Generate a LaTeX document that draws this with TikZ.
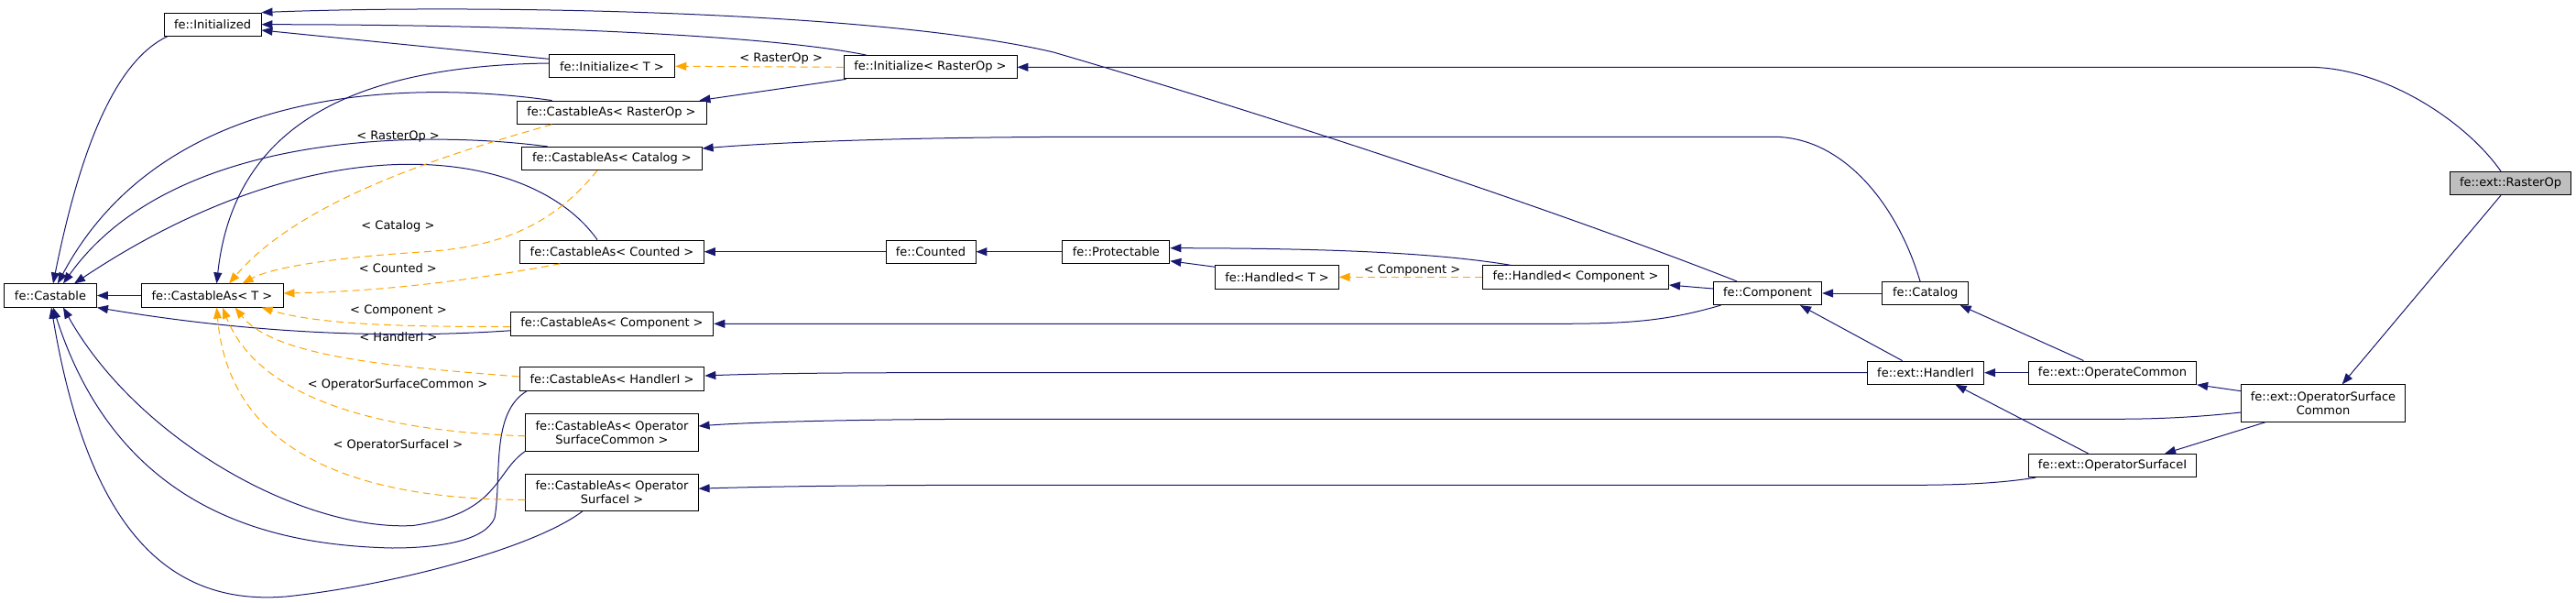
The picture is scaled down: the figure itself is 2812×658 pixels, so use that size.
\documentclass[tikz,border=0pt]{standalone}
\usepackage{fontspec}
\setmainfont{DejaVu Sans}
\usetikzlibrary{arrows.meta}

\definecolor{edgeblue}{HTML}{191970}
\definecolor{tmplorange}{HTML}{FFA500}
\definecolor{curgray}{HTML}{BFBFBF}

\tikzset{
  cls/.style={draw=black, line width=0.9pt, fill=white, inner sep=0pt,
    minimum height=25.3pt, align=center, font=\fontsize{13}{15.3}\selectfont},
  inh/.style={draw=edgeblue, line width=1pt, -{Triangle[length=12pt,width=9pt]}},
  tmpl/.style={draw=tmplorange, line width=1pt, dash pattern=on 8pt off 5pt,
    -{Triangle[length=12pt,width=9pt]}},
  lbl/.style={inner sep=0pt, font=\fontsize{13}{15.3}\selectfont}
}

\begin{document}
\begin{tikzpicture}[x=1pt,y=-1pt]
      \useasboundingbox (0,0) rectangle (2812,658);
      % classes
      \node[cls, minimum width=106pt] (initd) at (232,26.7) {fe::Initialized};
      \node[cls, minimum width=137.6pt] (initT) at (668,72.3) {fe::Initialize< T >};
      \node[cls, minimum width=189pt] (initR) at (1015.5,73.3) {fe::Initialize< RasterOp >};
      \node[cls, minimum width=207pt] (castR) at (667.5,122.7) {fe::CastableAs< RasterOp >};
      \node[cls, minimum width=196.4pt] (castCat) at (668,173) {fe::CastableAs< Catalog >};
      \node[cls, minimum width=200.6pt] (castCnt) at (668,274.7) {fe::CastableAs< Counted >};
      \node[cls, minimum width=98pt] (counted) at (1016,274.7) {fe::Counted};
      \node[cls, minimum width=117pt] (protect) at (1218.4,274.7) {fe::Protectable};
      \node[cls, minimum width=134.2pt] (handT) at (1394,302.4) {fe::Handled< T >};
      \node[cls, minimum width=203.2pt] (handC) at (1720,302.4) {fe::Handled< Component >};
      \node[cls, minimum width=118.3pt] (comp) at (1929.5,320) {fe::Component};
      \node[cls, minimum width=93.7pt] (catalog) at (2101.7,320) {fe::Catalog};
      \node[cls, fill=curgray, minimum width=132.5pt] (raster) at (2740.5,200) {fe::ext::RasterOp};
      \node[cls, minimum width=127.4pt] (handlerI) at (2102,406.7) {fe::ext::HandlerI};
      \node[cls, minimum width=183.3pt] (opCommon) at (2306,406.7) {fe::ext::OperateCommon};
      \node[cls, minimum width=179.2pt, minimum height=40.3pt] (osCommon) at (2536,440) {fe::ext::OperatorSurface\\Common};
      \node[cls, minimum width=183.3pt] (osI) at (2306,508) {fe::ext::OperatorSurfaceI};
      \node[cls, minimum width=221.6pt] (castComp) at (668,353.3) {fe::CastableAs< Component >};
      \node[cls, minimum width=201.8pt] (castHI) at (668,413.3) {fe::CastableAs< HandlerI >};
      \node[cls, minimum width=188.3pt, minimum height=40.3pt] (castOSC) at (668,471.8) {fe::CastableAs< Operator\\SurfaceCommon >};
      \node[cls, minimum width=188.3pt, minimum height=40.3pt] (castOSI) at (668,537.2) {fe::CastableAs< Operator\\SurfaceI >};
      \node[cls, minimum width=101pt] (castable) at (55,322.5) {fe::Castable};
      \node[cls, minimum width=155pt] (castT) at (231.5,322.5) {fe::CastableAs< T >};

      % template labels
      \node[lbl] (lRasterInit) at (852.7,64.3) {< RasterOp >};
      \node[lbl] (lRasterCast) at (434.6,149) {< RasterOp >};
      \node[lbl] (lCatalog) at (434.4,247.3) {< Catalog >};
      \node[lbl] (lCounted) at (434.4,292.3) {< Counted >};
      \node[lbl] (lCompCast) at (435,339) {< Component >};
      \node[lbl] (lHandlerI) at (435,367.4) {< HandlerI >};
      \node[lbl] (lOSC) at (434,420) {< OperatorSurfaceCommon >};
      \node[lbl] (lOSI) at (434.4,485.7) {< OperatorSurfaceI >};
      \node[lbl] (lCompHand) at (1541.5,295) {< Component >};

      % inheritance
      \draw[inh] ([xshift=-33.5pt]comp.north) .. controls (1700,230) and (1400,130) .. (1150,57)
        .. controls (950,10) and (500,5) .. (initd.north east);
      \draw[inh] ([xshift=-69.5pt]initR.north) .. controls (850,40) and (600,27) .. (initd.east);
      \draw[inh] ([yshift=8pt]initT.west) -- ([yshift=-6.3pt]initd.east);
      \draw[inh] ([xshift=4pt]initd.south west) .. controls (130,65) and (90,150) .. ([xshift=3pt]castable.north);
      \draw[inh] ([yshift=3.3pt]initT.west) .. controls (380,72) and (255,140) .. ([xshift=5pt]castT.north);
      \draw[inh] ([xshift=39pt]castR.north west) .. controls (450,88) and (180,90) .. ([xshift=8pt]castable.north);
      \draw[inh] ([xshift=28.4pt]castCat.north west) .. controls (470,143) and (190,140) .. ([xshift=14pt]castable.north);
      \draw[inh] ([xshift=-16pt]castCnt.north) .. controls (580,160) and (350,130) .. ([xshift=26pt]castable.north);
      \draw[inh] (castT.west) -- (castable.east);
      \draw[inh] ([yshift=-7.5pt]castComp.west) .. controls (450,368) and (300,368) .. (castable.south east);
      \draw[inh] ([xshift=9pt]castHI.south west) .. controls (535,450) and (548,520) .. (540,565)
        .. controls (530,590) and (480,598) .. (428,598)
        .. controls (300,595) and (130,560) .. ([xshift=3pt]castable.south);
      \draw[inh] (castOSC.south west) .. controls (540,515) and (545,560) .. (451,573.5)
        .. controls (330,580) and (150,480) .. ([xshift=14pt]castable.south);
      \draw[inh] ([xshift=-32pt]castOSI.south) .. controls (580,600) and (420,640) .. (312,651)
        .. controls (200,660) and (100,600) .. ([xshift=1pt]castable.south);
      \draw[inh] ([xshift=3pt]initR.south west) -- ([xshift=-8pt]castR.north east);
      \draw[inh] ([xshift=-5.7pt]catalog.north) .. controls (2070,220) and (2010,149.3) .. (1936,149.3)
        -- (1200,149.3) .. controls (1000,149.3) and (850,155) .. ([yshift=11pt]castCat.east);
      \draw[inh] (counted.west) -- (castCnt.east);
      \draw[inh] (protect.west) -- (counted.east);
      \draw[inh] ([yshift=-2pt]handT.north west) -- ([yshift=3pt]protect.south east);
      \draw[inh] ([xshift=31pt]handC.north west) .. controls (1580,278) and (1480,271) .. ([yshift=4pt]protect.east);
      \draw[inh] ([yshift=5pt]comp.west) -- ([yshift=-8.6pt]handC.east);
      \draw[inh] (catalog.west) -- (comp.east);
      \draw[inh] ([xshift=-25.4pt]handlerI.north) -- ([xshift=35.5pt]comp.south);
      \draw[inh] ([xshift=8.6pt]comp.south west) .. controls (1820,350) and (1780,353.3) .. (1700,353.3) -- (castComp.east);
      \draw[inh] ([xshift=-31.5pt]opCommon.north) -- ([xshift=38pt]catalog.south);
      \draw[inh] (opCommon.west) -- (handlerI.east);
      \draw[inh] ([xshift=-26.4pt]osI.north) -- ([xshift=32.6pt]handlerI.south);
      \draw[inh] (handlerI.west) -- (1000,406.7) .. controls (900,406.7) and (820,408) .. ([yshift=3.3pt]castHI.east);
      \draw[inh] ([yshift=13.3pt]osCommon.west) -- (opCommon.south east);
      \draw[inh] ([xshift=27.4pt]osCommon.south west) -- ([xshift=-35pt]osI.north east);
      \draw[inh] ([yshift=-10pt]osCommon.west) .. controls (2380,457.3) and (2330,457.3) .. (2300,457.3)
        -- (1100,457.3) .. controls (900,457.3) and (800,462) .. ([yshift=6.8pt]castOSC.east);
      \draw[inh] ([xshift=8.3pt]osI.south west) .. controls (2180,528) and (2130,529.3) .. (2090,529.3)
        -- (1100,529.3) .. controls (900,529.3) and (800,532) .. ([yshift=4pt]castOSI.east);
      \draw[inh] ([xshift=-10.5pt]raster.south) -- ([xshift=20.7pt]osCommon.north);
      \draw[inh] ([xshift=-10.5pt]raster.north) .. controls (2690,130) and (2600,73.3) .. (2520,73.3) -- (initR.east);

      % template instances
      \draw[tmpl] (initR.west) -- (initT.east);
      \draw[tmpl] (handC.west) -- (handT.east);
      \draw[tmpl] ([xshift=-65pt]castR.south) .. controls (500,165) and (330,215) .. ([xshift=18.5pt]castT.north);
      \draw[tmpl] ([xshift=-16pt]castCat.south) .. controls (600,250) and (540,270) .. (460,275)
        .. controls (380,280) and (300,290) .. ([xshift=33pt]castT.north);
      \draw[tmpl] ([xshift=-56.5pt]castCnt.south) .. controls (520,305) and (420,318) .. ([yshift=2.5pt]castT.east);
      \draw[tmpl] ([yshift=-3.2pt]castComp.west) .. controls (450,356.5) and (350,355) .. ([xshift=54pt]castT.south);
      \draw[tmpl] ([yshift=2.3pt]castHI.west) .. controls (430,400) and (300,390) .. ([xshift=25pt]castT.south);
      \draw[tmpl] ([yshift=-4pt]castOSC.west) .. controls (400,470) and (280,430) .. ([xshift=11.5pt]castT.south);
      \draw[tmpl] ([yshift=-8.2pt]castOSI.west) .. controls (380,545) and (250,490) .. ([xshift=5pt]castT.south);
    \end{tikzpicture}
\end{document}
